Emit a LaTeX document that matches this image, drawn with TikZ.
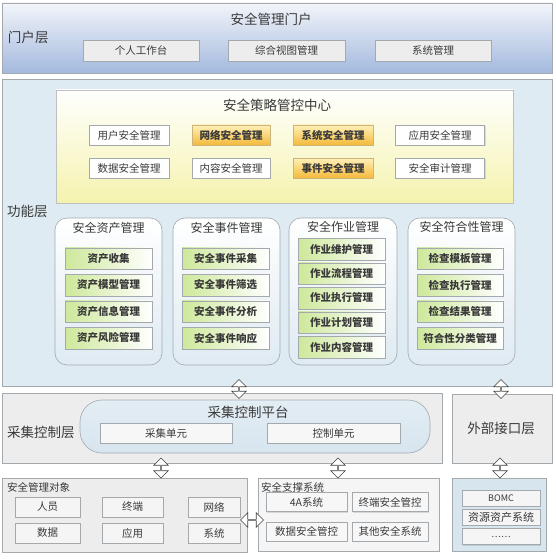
\documentclass[tikz,border=0pt]{standalone}
\usepackage{fontspec}
\setmainfont{Noto Sans CJK SC}
\usetikzlibrary{shapes.arrows,shadows}

\definecolor{linegray}{HTML}{A4A9AE}
\definecolor{textgray}{HTML}{3A3A3A}
\definecolor{portaltop}{HTML}{F3F5FA}
\definecolor{portalbot}{HTML}{A3B9DE}
\definecolor{funcblue}{HTML}{DEEBF3}
\definecolor{lightyel}{HTML}{F5F3AE}
\definecolor{orangetop}{HTML}{FFF1B8}
\definecolor{orangebot}{HTML}{F4B93A}
\definecolor{itemgreen}{HTML}{CDE89A}
\definecolor{boxblue}{HTML}{D7E5EF}

\begin{document}
\begin{tikzpicture}[x=1pt, y=-1pt,
    every node/.style={inner sep=0, outer sep=0, text=textgray},
    layer/.style={draw=linegray, line width=0.6pt},
    big/.style={font=\fontsize{13.5}{16}\selectfont},
    small/.style={font=\fontsize{10.5}{12}\selectfont},
    sub/.style={draw=linegray, line width=0.5pt, minimum height=21, small,
        drop shadow={shadow xshift=1pt, shadow yshift=-1pt, opacity=0.25}},
    wbox/.style={sub, fill=white, minimum height=20},
    obox/.style={sub, minimum height=20, top color=orangetop, bottom color=orangebot,
        draw=orangebot!70!black!60, font=\fontsize{10.5}{12}\selectfont\bfseries},
    group/.style={draw=linegray, line width=0.6pt, rounded corners=12,
        top color=white, bottom color=boxblue!80},
    item/.style={sub, minimum width=87, minimum height=21.5, left color=itemgreen,
        right color=white, font=\fontsize{10.5}{12}\selectfont\bfseries},
    dbl/.style={double arrow, draw=black!75, fill=white, line width=0.6pt,
        minimum width=14.5, double arrow head extend=3.5pt}
]
\useasboundingbox (0,0) rectangle (555,559);

% portal layer
\node[layer, minimum width=550, minimum height=70, top color=portaltop, bottom color=portalbot] (portal) at (277,38) {};
\node[big] (portaltitle) at (271,19) {安全管理门户};
\node[big, anchor=west] (portallabel) at (8,37) {门户层};
\node[sub, minimum width=116, fill=black!7] (p1) at (141,50.5) {个人工作台};
\node[sub, minimum width=117, fill=black!7] (p2) at (286.5,50.5) {综合视图管理};
\node[sub, minimum width=116, fill=black!7] (p3) at (433,50.5) {系统管理};

% function layer
\node[layer, minimum width=550, minimum height=307, fill=funcblue] (func) at (277,232.5) {};
\node[big, anchor=west] (funclabel) at (7,211) {功能层};

\node[layer, minimum width=457, minimum height=113, top color=white, bottom color=lightyel,
    draw=black!25] (policy) at (284.5,146.5) {};
\node[big] (policytitle) at (277,105) {安全策略管控中心};
\node[wbox, minimum width=80] (u1) at (129,135) {用户安全管理};
\node[obox, minimum width=78] (u2) at (231,135) {网络安全管理};
\node[obox, minimum width=80] (u3) at (333,135) {系统安全管理};
\node[wbox, minimum width=89] (u4) at (440,135) {应用安全管理};
\node[wbox, minimum width=80] (d1) at (129,168) {数据安全管理};
\node[wbox, minimum width=78] (d2) at (231,168) {内容安全管理};
\node[obox, minimum width=80] (d3) at (333,168) {事件安全管理};
\node[wbox, minimum width=89] (d4) at (440,168) {安全审计管理};

% four groups
\node[group, minimum width=107, minimum height=147] (asset) at (108.5,291.5) {};
\node[group, minimum width=107, minimum height=147] (event) at (226.5,291.5) {};
\node[group, minimum width=108, minimum height=147] (job) at (343,291.5) {};
\node[group, minimum width=107, minimum height=147] (check) at (461.5,291.5) {};
\node[font=\fontsize{12}{14}\selectfont] (assettitle) at (108.5,228) {安全资产管理};
\node[font=\fontsize{12}{14}\selectfont] (eventtitle) at (226.5,228) {安全事件管理};
\node[font=\fontsize{12}{14}\selectfont] (jobtitle) at (343,227) {安全作业管理};
\node[font=\fontsize{12}{14}\selectfont] (checktitle) at (461.5,227) {安全符合性管理};

\foreach \t [count=\i] in {资产收集,资产模型管理,资产信息管理,资产风险管理}
    \node[item] (a\i) at (108.5,{232+26.5*\i}) {\t};
\foreach \t [count=\i] in {安全事件采集,安全事件筛选,安全事件分析,安全事件响应}
    \node[item] (e\i) at (225.5,{232+26.5*\i}) {\t};
\foreach \t [count=\i] in {作业维护管理,作业流程管理,作业执行管理,作业计划管理,作业内容管理}
    \node[item] (j\i) at (341.5,{224.5+24.5*\i}) {\t};
\foreach \t [count=\i] in {检查模板管理,检查执行管理,检查结果管理,符合性分类管理}
    \node[item, minimum width=86] (c\i) at (460,{232+26.5*\i}) {\t};

% gathering layer
\node[layer, minimum width=440, minimum height=70, fill=black!7] (gather) at (222,428) {};
\node[big, anchor=west] (gatherlabel) at (7,432) {采集控制层};
\node[layer, rounded corners=22, minimum width=350, minimum height=53,
    top color=boxblue!70, bottom color=boxblue] (platform) at (255,426.5) {};
\node[big] (platformtitle) at (248,412) {采集控制平台};
\node[sub, minimum width=132, minimum height=20, fill=black!3] (unit1) at (166,433) {采集单元};
\node[sub, minimum width=133, minimum height=20, fill=black!3] (unit2) at (333.5,433) {控制单元};

\node[layer, minimum width=100, minimum height=69, fill=black!7] (outer) at (502,428.5) {};
\node[big] (outerlabel) at (501,428) {外部接口层};

% bottom row
\node[layer, minimum width=245, minimum height=74, fill=black!7] (obj) at (124.5,515) {};
\node[small, anchor=west] (objtitle) at (7,487.5) {安全管理对象};
\node[sub, minimum width=65, minimum height=20, fill=black!4] (o1) at (47.5,507) {人员};
\node[sub, minimum width=61, minimum height=20, fill=black!4] (o2) at (132.5,507) {终端};
\node[sub, minimum width=52, minimum height=20, fill=black!4] (o3) at (214,507) {网络};
\node[sub, minimum width=65, minimum height=20, fill=black!4] (o4) at (47.5,533) {数据};
\node[sub, minimum width=61, minimum height=20, fill=black!4] (o5) at (132.5,533) {应用};
\node[sub, minimum width=52, minimum height=20, fill=black!4] (o6) at (214,533) {系统};

\node[layer, minimum width=181, minimum height=73, fill=black!4] (sup) at (348.5,514.5) {};
\node[small, anchor=west] (suptitle) at (261,487.5) {安全支撑系统};
\node[sub, minimum width=81, minimum height=19, fill=black!3] (s1) at (306.5,502) {4A系统};
\node[sub, minimum width=76, minimum height=19, fill=black!3] (s2) at (390,502) {终端安全管控};
\node[sub, minimum width=81, minimum height=19, fill=black!3] (s3) at (306.5,531.5) {数据安全管控};
\node[sub, minimum width=76, minimum height=19, fill=black!3] (s4) at (390,531.5) {其他安全系统};

\node[layer, minimum width=94, minimum height=73, fill=boxblue] (ext) at (499,514.5) {};
\node[sub, minimum width=78, minimum height=16, fill=black!4, font=\fontsize{9}{10}\selectfont] (x1) at (501,498) {BOMC};
\node[sub, minimum width=78, minimum height=16, fill=black!4, font=\fontsize{11}{12}\selectfont] (x2) at (501,517) {资源资产系统};
\node[sub, minimum width=78, minimum height=16, fill=black!4, font=\fontsize{9}{10}\selectfont] (x3) at (501,536.5) {……};

% arrows between layers
\node[dbl, rotate=90, minimum height=19] (ar1) at (239,389) {};
\node[dbl, rotate=90, minimum height=19] (ar2) at (501,389) {};
\node[dbl, rotate=90, minimum height=20] (ar3) at (161,468) {};
\node[dbl, rotate=90, minimum height=20] (ar4) at (338,468) {};
\node[dbl, rotate=90, minimum height=20] (ar5) at (500,468) {};
\node[dbl, minimum height=23] (ar6) at (252,520) {};
\end{tikzpicture}
\end{document}
